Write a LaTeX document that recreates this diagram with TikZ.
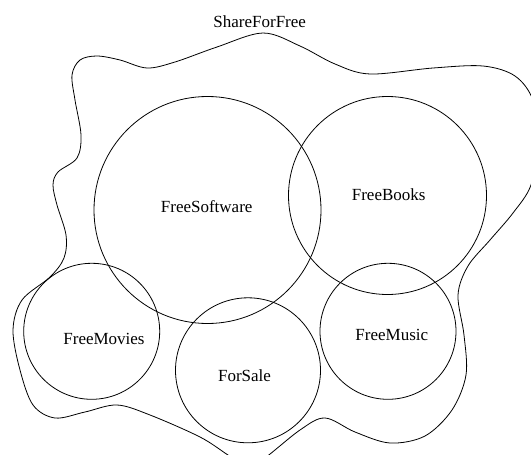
\documentclass[tikz,border=0pt]{standalone}
\usepackage{fontspec}
\setmainfont{Liberation Serif}
\begin{document}
\begin{tikzpicture}[x=1pt,y=-1pt,
  setcirc/.style={draw, circle, inner sep=0pt, line width=0.8pt},
  lbl/.style={anchor=base, inner sep=0pt, font=\fontsize{17}{20}\selectfont}]
\useasboundingbox (0,0) rectangle (531,455);
\begin{scope}
\clip (0,0) rectangle (531,455);
\draw[line width=0.8pt] plot[smooth cycle, tension=0.55] coordinates {
 (263,33) (300,46) (335,64) (370,74) (433,68) (483,66) (515,76) (533,100)
 (539,140) (531,185) (513,213) (490,240) (468,266) (458,295) (464,335)
 (466,375) (452,410) (425,436) (390,443) (355,432) (325,418) (300,430)
 (262,460) (245,465) (228,455) (200,437) (150,415) (117,405) (85,412)
 (55,418) (33,405) (20,370) (13,330) (22,300) (50,277) (64,258) (66,235)
 (57,205) (53,185) (58,172) (77,158) (81,135) (75,100) (72,75) (80,60)
 (97,56) (120,60) (147,68) (175,62) (217,47)};
\end{scope}
\node[setcirc, minimum size=227pt] (soft) at (207.5,210) {};
\node[setcirc, minimum size=198pt] (books) at (387.5,195.5) {};
\node[setcirc, minimum size=136pt] (movies) at (91.7,331.3) {};
\node[setcirc, minimum size=145pt] (sale) at (248,370.3) {};
\node[setcirc, minimum size=136pt] (music) at (388,331.3) {};
\node[lbl] (tshare) at (259.7,27.3) {ShareForFree};
\node[lbl] (tsoft) at (206.7,212.5) {FreeSoftware};
\node[lbl] (tbooks) at (388.7,200) {FreeBooks};
\node[lbl] (tmovies) at (104,344) {FreeMovies};
\node[lbl] (tmusic) at (391.8,340) {FreeMusic};
\node[lbl] (tsale) at (244.5,381) {ForSale};
\end{tikzpicture}
\end{document}
